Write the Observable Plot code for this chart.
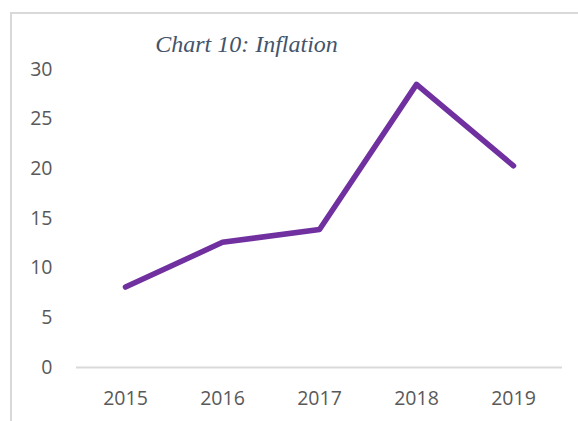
<!DOCTYPE html>
<html>
<head>
<meta charset="utf-8">
<script src="https://cdn.jsdelivr.net/npm/d3@7"></script>
<script src="https://cdn.jsdelivr.net/npm/@observablehq/plot@0.6"></script>
<style>
  html, body { margin: 0; padding: 0; background: #fff; overflow: hidden; }
  #wrap { position: relative; width: 578px; height: 421px; }
  #frame { position: absolute; left: 10px; top: 12px; width: 700px; height: 500px;
           border-left: 2px solid #d9d9d9; border-top: 2px solid #d9d9d9; }
  #chart { position: absolute; left: 0; top: 0; }
</style>
</head>
<body>
<div id="wrap"><div id="frame"></div><div id="chart"></div></div>
<script>
const years = ["2015", "2016", "2017", "2018", "2019"];
const inflation = [8.1, 12.6, 13.9, 28.5, 20.3];
const yTicks = [0, 5, 10, 15, 20, 25, 30];
const title = "Chart 10: Inflation";

const data = years.map((y, i) => ({year: y, value: inflation[i]}));

const chart = Plot.plot({
  width: 578,
  height: 421,
  marginLeft: 76,
  marginRight: 16,
  marginTop: 69,
  marginBottom: 54,
  style: {background: "transparent", fontFamily: "'Open Sans', sans-serif", fontSize: "19.5px", color: "#595959"},
  x: {type: "point", domain: years, padding: 0.5, label: null},
  y: {domain: [0, 30], label: null},
  marks: [
    Plot.axisY({ticks: yTicks, tickSize: 0, tickPadding: 24, fill: "#595959", fontSize: 19.5, label: null}),
    Plot.axisX({tickSize: 0, tickPadding: 24, fill: "#595959", fontSize: 19.5, label: null}),
    Plot.ruleY([0], {stroke: "#d9d9d9", strokeWidth: 2}),
    Plot.line(data, {x: "year", y: "value", stroke: "#7030a0", strokeWidth: 5.5, strokeLinecap: "round", strokeLinejoin: "round"}),
    Plot.text([title], {frameAnchor: "top", dx: -73, dy: -35, text: d => d,
      fontFamily: "'Liberation Serif', serif", fontStyle: "italic", fontSize: 24, fill: "#44546a"})
  ]
});
document.getElementById("chart").appendChild(chart);
</script>
</body>
</html>
